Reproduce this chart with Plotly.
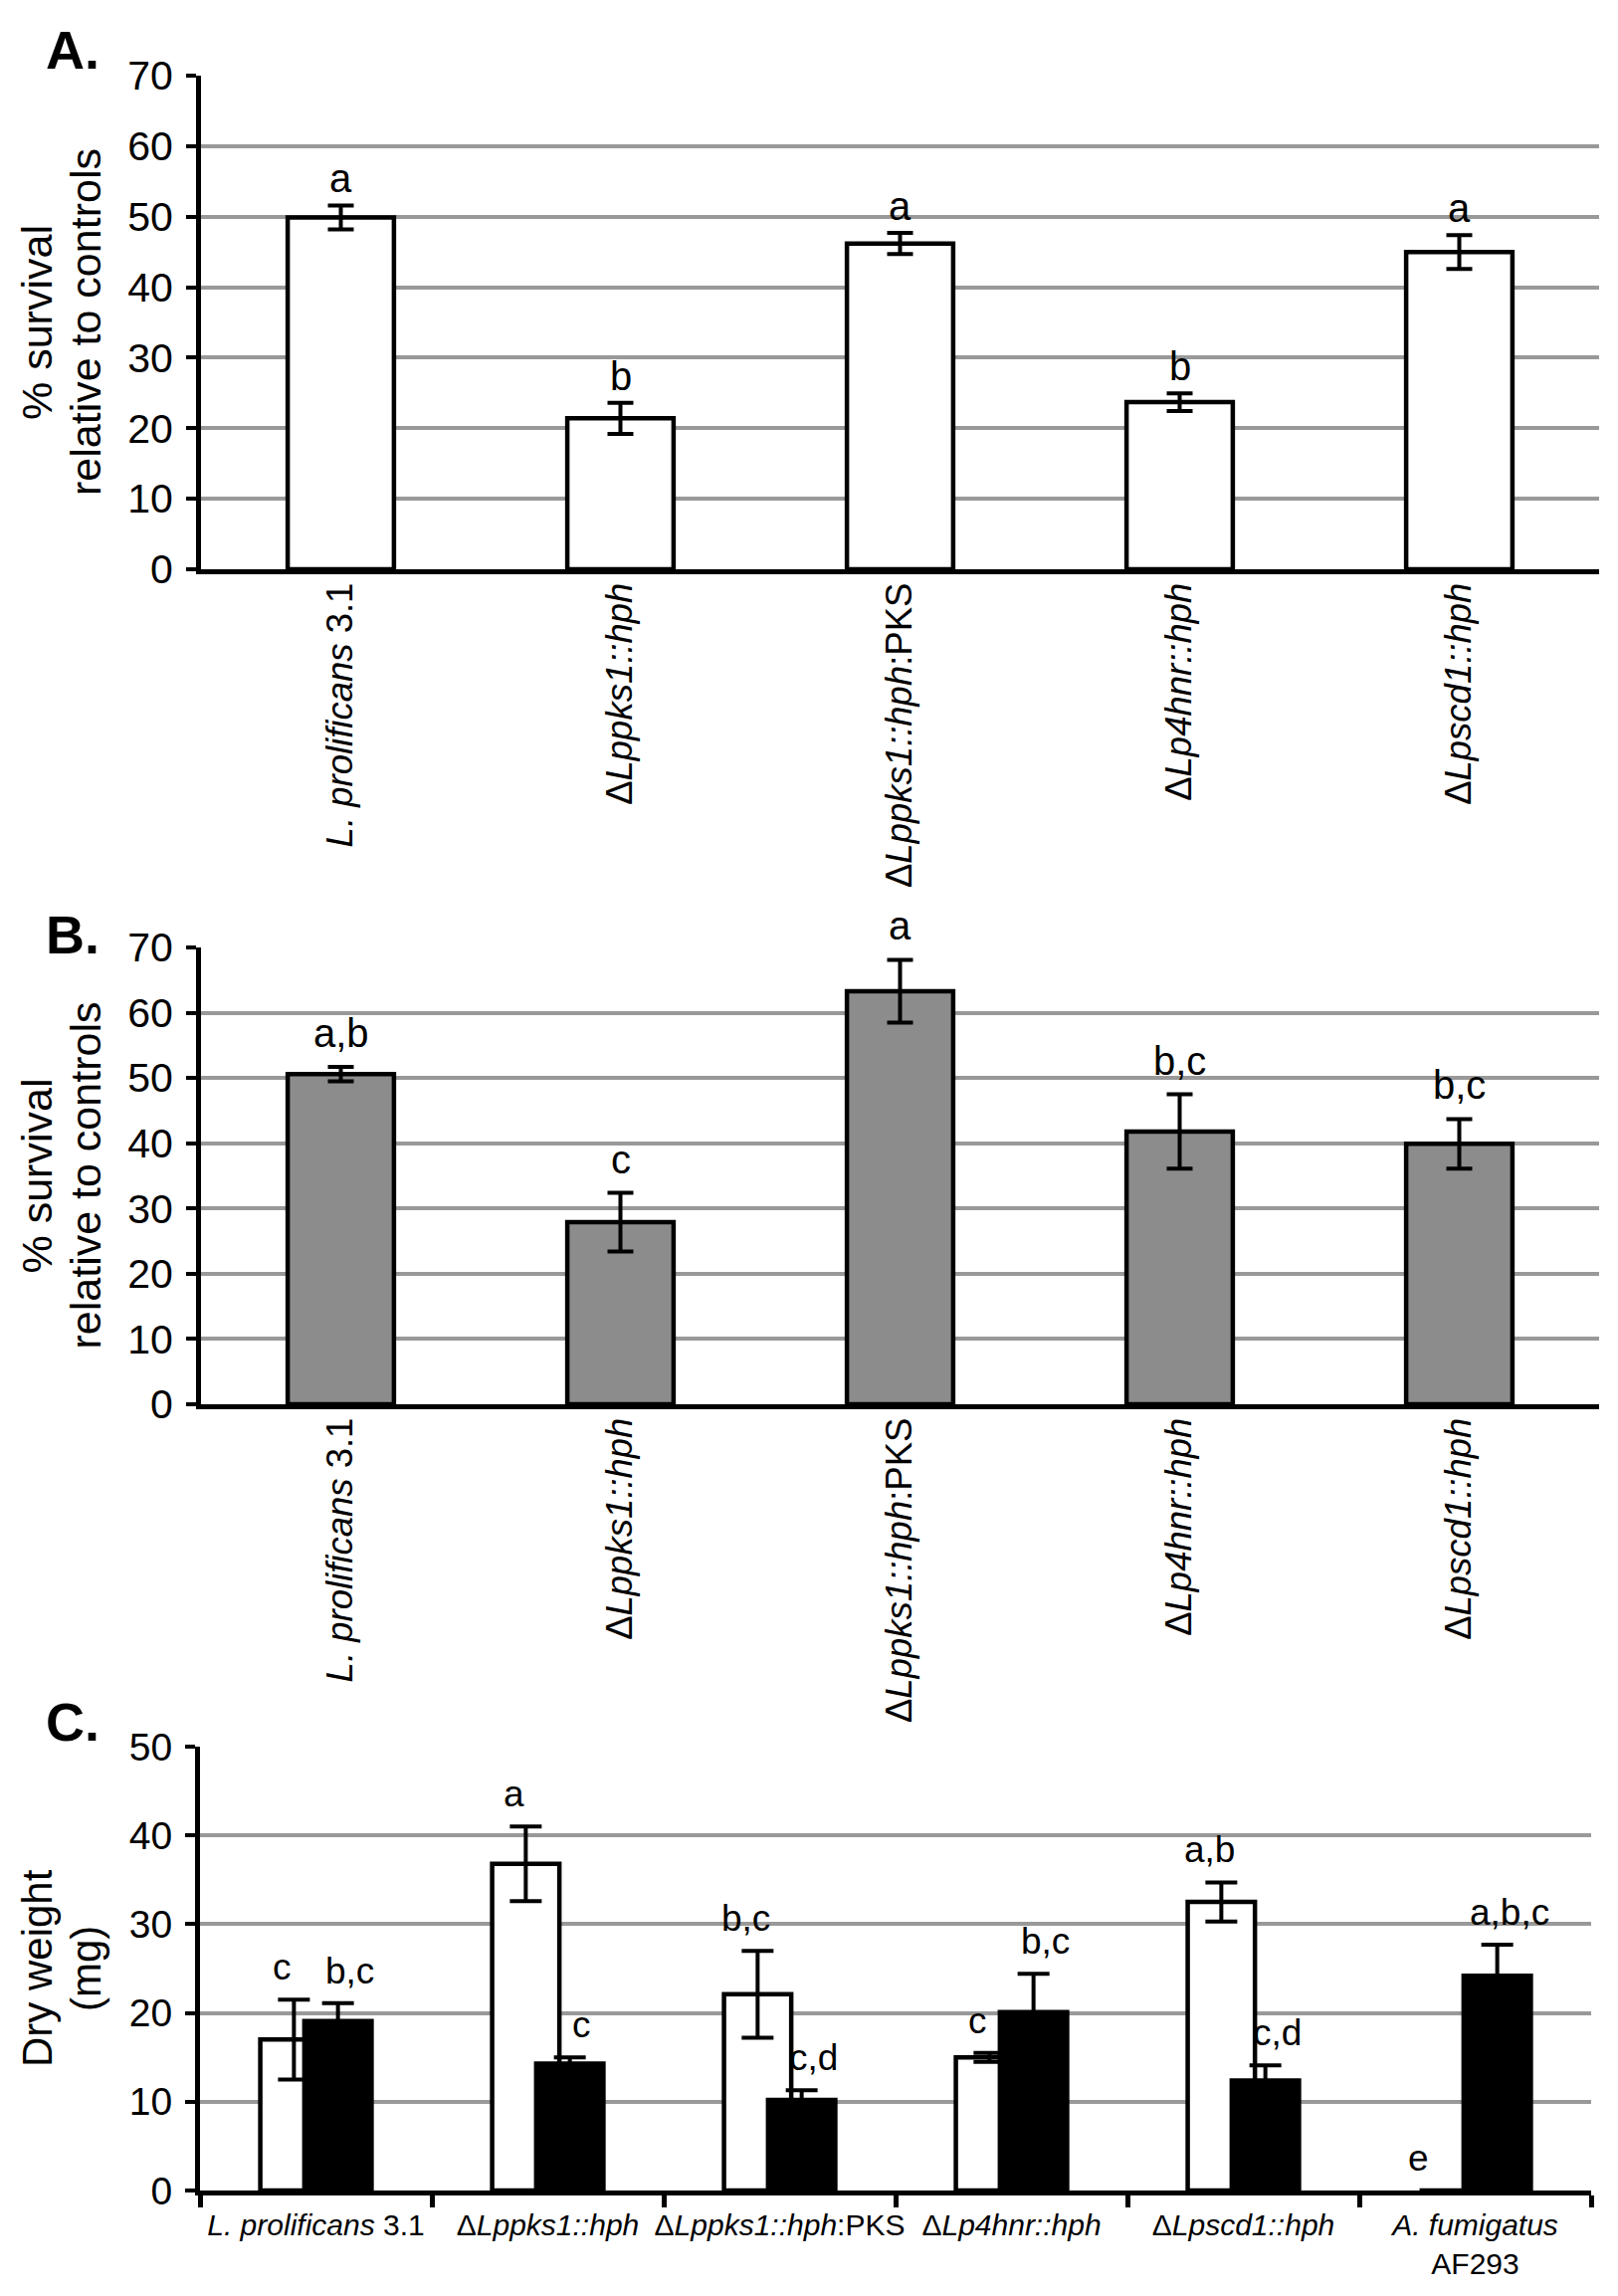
import plotly.graph_objects as go

W, H = 1626, 2307
FONT = "Liberation Sans, Arial, sans-serif"

# ---------------- data ----------------
strains = ["L. prolificans 3.1", "dLppks1::hph", "dLppks1::hph:PKS", "dLp4hnr::hph", "dLpscd1::hph"]
strain_labels = ["<i>L. prolificans</i> 3.1", "Δ<i>Lppks1::hph</i>", "Δ<i>Lppks1::hph</i>:PKS",
                 "Δ<i>Lp4hnr::hph</i>", "Δ<i>Lpscd1::hph</i>"]

a_values = [49.9, 21.4, 46.2, 23.7, 45.0]
a_errors = [1.7, 2.2, 1.5, 1.25, 2.4]
a_letters = ["a", "b", "a", "b", "a"]

b_values = [50.6, 27.9, 63.3, 41.8, 39.9]
b_errors = [1.1, 4.5, 4.8, 5.7, 3.8]
b_letters = ["a,b", "c", "a", "b,c", "b,c"]

c_strains = strains + ["A. fumigatus AF293"]
c_labels = ["<i>L. prolificans</i> 3.1", "Δ<i>Lppks1::hph</i>", "Δ<i>Lppks1::hph</i>:PKS",
            "Δ<i>Lp4hnr::hph</i>", "Δ<i>Lpscd1::hph</i>", "<i>A. fumigatus</i><br>AF293"]
c_white = [17.0, 36.8, 22.1, 15.0, 32.5, 0]
c_white_err = [4.5, 4.2, 4.9, 0.5, 2.2, None]
c_black = [19.1, 14.3, 10.2, 20.1, 12.4, 24.2]
c_black_err = [2.0, 0.7, 1.1, 4.3, 1.7, 3.5]
c_white_letters = ["c", "a", "b,c", "c", "a,b", "e"]
c_black_letters = ["b,c", "c", "c,d", "b,c", "c,d", "a,b,c"]

y_ticks_ab = [0, 10, 20, 30, 40, 50, 60, 70]
y_ticks_c = [0, 10, 20, 30, 40, 50]

# ---------------- layout geometry (px) ----------------
def py(p):
    return 1 - p / H

def px(p):
    return p / W

A_dom = [py(572), py(76)]
B_dom = [py(1411), py(952)]
C_dom = [py(2201), py(1755)]
X_dom = [px(202), px(1607)]
XC_dom = [px(201), px(1599)]

fig = go.Figure()

err_style = dict(type="data", color="black", thickness=4, width=13, visible=True)

fig.add_trace(go.Bar(x=strains, y=a_values, xaxis="x", yaxis="y",
                     marker=dict(color="white", line=dict(color="black", width=4.5)),
                     error_y=dict(array=a_errors, **err_style), showlegend=False))
fig.add_trace(go.Bar(x=strains, y=b_values, xaxis="x2", yaxis="y2",
                     marker=dict(color="#8c8c8c", line=dict(color="black", width=4.5)),
                     error_y=dict(array=b_errors, **err_style), showlegend=False))

err_c = dict(type="data", color="black", thickness=4, width=16, visible=True)
fig.add_trace(go.Bar(x=c_strains, y=c_white, xaxis="x3", yaxis="y3",
                     marker=dict(color="white", line=dict(color="black", width=4.5)),
                     error_y=dict(array=c_white_err, **err_c), showlegend=False))
fig.add_trace(go.Bar(x=c_strains, y=c_black, xaxis="x3", yaxis="y3",
                     marker=dict(color="black", line=dict(color="black", width=4.5)),
                     error_y=dict(array=c_black_err, **err_c), showlegend=False))

ann = []
# letters
for s, v, e, l in zip(strains, a_values, a_errors, a_letters):
    ann.append(dict(x=s, y=v + e, xref="x", yref="y", text=l, showarrow=False,
                    yanchor="bottom", yshift=3, font=dict(family=FONT, size=40, color="black")))
for s, v, e, l in zip(strains, b_values, b_errors, b_letters):
    ann.append(dict(x=s, y=v + e, xref="x2", yref="y2", text=l, showarrow=False,
                    yanchor="bottom", yshift=10, font=dict(family=FONT, size=40, color="black")))
for s, v, e, l in zip(c_strains, c_white, c_white_err, c_white_letters):
    shift = -34 if e is not None else -57
    ann.append(dict(x=s, y=v + (e or 0), xref="x3", yref="y3", text=l, showarrow=False,
                    yanchor="bottom", yshift=10, xshift=shift,
                    font=dict(family=FONT, size=37, color="black")))
for s, v, e, l in zip(c_strains, c_black, c_black_err, c_black_letters):
    ann.append(dict(x=s, y=v + e, xref="x3", yref="y3", text=l, showarrow=False,
                    yanchor="bottom", yshift=10, xshift=34,
                    font=dict(family=FONT, size=37, color="black")))

# panel labels
for lab, top in [("A.", 18), ("B.", 907), ("C.", 1698)]:
    ann.append(dict(x=px(44), y=py(top), xref="paper", yref="paper", text="<b>%s</b>" % lab,
                    showarrow=False, xanchor="left", yanchor="top",
                    font=dict(family=FONT, size=54, color="black")))

# axis titles
def ytitle(lines, dom, size):
    mid = (dom[0] + dom[1]) / 2
    for txt, xc in zip(lines, [37, 86]):
        ann.append(dict(x=px(xc), y=mid, xref="paper", yref="paper", text=txt, textangle=-90,
                        showarrow=False, xanchor="center", yanchor="middle",
                        font=dict(family=FONT, size=size, color="black")))

ytitle(["% survival", "relative to controls"], A_dom, 43)
ytitle(["% survival", "relative to controls"], B_dom, 43)
ytitle(["Dry weight", "(mg)"], C_dom, 42)

yax = dict(showgrid=True, gridcolor="#999999", gridwidth=3.5, showline=True, linecolor="black",
           linewidth=5, ticks="outside", ticklen=10, tickwidth=4, tickcolor="black",
           zeroline=False, fixedrange=True, ticklabelstandoff=5, automargin=False)
xax = dict(type="category", showgrid=False, showline=True, linecolor="black", linewidth=5,
           zeroline=False, fixedrange=True, automargin=False)

fig.update_layout(
    width=W, height=H, autosize=False,
    margin=dict(l=0, r=0, t=0, b=0, pad=0),
    paper_bgcolor="white", plot_bgcolor="white",
    font=dict(family=FONT, color="black"),
    bargap=0.62, barmode="group",
    xaxis=dict(domain=X_dom, anchor="y", tickvals=strains, ticktext=strain_labels,
               tickangle=-90, ticks="", ticklabelstandoff=-6,
               tickfont=dict(family=FONT, size=36.5), range=[-0.5, 4.5], **xax),
    yaxis=dict(domain=A_dom, anchor="x", range=[0, 70], tickvals=y_ticks_ab,
               tickfont=dict(family=FONT, size=41), **yax),
    xaxis2=dict(domain=X_dom, anchor="y2", tickvals=strains, ticktext=strain_labels,
                tickangle=-90, ticks="", ticklabelstandoff=-6,
                tickfont=dict(family=FONT, size=36.5), range=[-0.5, 4.5], **xax),
    yaxis2=dict(domain=B_dom, anchor="x2", range=[0, 70], tickvals=y_ticks_ab,
                tickfont=dict(family=FONT, size=41), **yax),
    xaxis3=dict(domain=XC_dom, anchor="y3", tickvals=c_strains, ticktext=c_labels,
                tickangle=0, ticks="outside", tickson="boundaries", ticklen=12, tickwidth=5,
                tickcolor="black", ticklabelstandoff=4,
                tickfont=dict(family=FONT, size=30), range=[-0.5, 5.5], **xax),
    yaxis3=dict(domain=C_dom, anchor="x3", range=[0, 50], tickvals=y_ticks_c,
                tickfont=dict(family=FONT, size=39), **yax),
    annotations=ann,
)

# panel C bars are narrower than panels A/B
fig.update_traces(selector=dict(xaxis="x3"), width=0.29)

fig.write_html("out.html", config={"displayModeBar": False},
               post_script="document.body.style.margin='0';document.body.style.overflow='hidden';")
